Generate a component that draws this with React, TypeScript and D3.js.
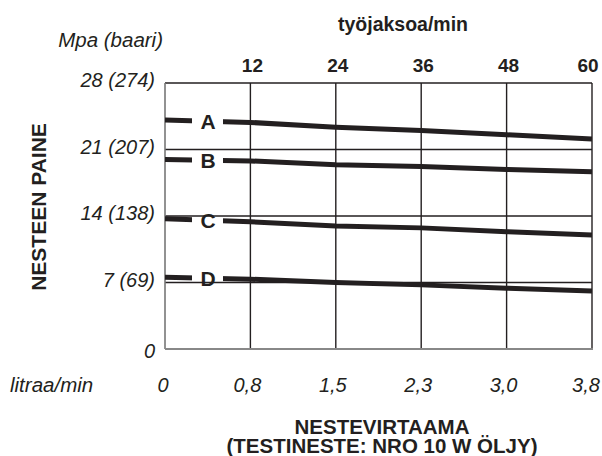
import React from "react";
import * as d3 from "d3";

const cycleTicks = [12, 24, 36, 48, 60];
const flowTickLabels = ["0", "0,8", "1,5", "2,3", "3,0", "3,8"];
const flowTickCycles = [0, 12, 24, 36, 48, 60];
const pressureTicks = [0, 7, 14, 21, 28];
const pressureTickLabels = ["0", "7 (69)", "14 (138)", "21 (207)", "28 (274)"];
const seriesX = [0, 12, 24, 36, 48, 60];
const seriesNames = ["A", "B", "C", "D"];
const seriesA = [24.1, 23.85, 23.35, 23.0, 22.55, 22.1];
const seriesB = [19.95, 19.8, 19.4, 19.2, 18.9, 18.65];
const seriesC = [13.7, 13.4, 12.95, 12.75, 12.35, 12.0];
const seriesD = [7.55, 7.35, 7.0, 6.75, 6.4, 6.1];
const seriesValues = [seriesA, seriesB, seriesC, seriesD];

const W = 602;
const H = 456;
const L = 165;
const R = 592;
const T = 83;
const B = 349;
const INK = "#231f20";
const FONT = "'Liberation Sans', Arial, Helvetica, sans-serif";

export default function App() {
  const x = d3.scaleLinear().domain([0, 60]).range([L, R]);
  const y = d3.scaleLinear().domain([0, 28]).range([B, T]);
  const line = d3
    .line<number>()
    .x((_, i) => x(seriesX[i]))
    .y((d) => y(d));

  const gapStart = 192;
  const gapEnd = 223;
  const labelX = 208;

  return (
    <svg
      width={W}
      height={H}
      style={{ position: "absolute", left: 0, top: 0, background: "#fff" }}
      fontFamily={FONT}
    >
      <defs>
        <clipPath id="gapclip">
          <rect x={L} y={0} width={gapStart - L} height={H} />
          <rect x={gapEnd} y={0} width={R - gapEnd} height={H} />
        </clipPath>
      </defs>
      <rect width={W} height={H} fill="#fff" />

      {/* horizontal gridlines */}
      {pressureTicks
        .filter((v) => v > 0 && v < 28)
        .map((v) => (
          <line key={"h" + v} x1={L} x2={R} y1={y(v)} y2={y(v)} stroke={INK} strokeWidth={1.4} />
        ))}
      {/* vertical gridlines */}
      {cycleTicks
        .filter((v) => v < 60)
        .map((v) => (
          <line key={"v" + v} x1={x(v)} x2={x(v)} y1={T} y2={B} stroke={INK} strokeWidth={1.4} />
        ))}
      {/* frame */}
      <line x1={L} x2={R} y1={T} y2={T} stroke={INK} strokeWidth={1.4} />
      <line x1={R} x2={R} y1={T} y2={B} stroke={INK} strokeWidth={1.4} />
      <line x1={L} x2={L} y1={T} y2={B} stroke="#777" strokeWidth={1.6} />
      <line x1={L} x2={R + 1} y1={B} y2={B} stroke="#888" strokeWidth={1.8} />

      {/* series */}
      {seriesValues.map((vals, i) => {
        const yl = y(vals[0]) + (y(vals[1]) - y(vals[0])) * (x.invert(labelX) / 12);
        return (
          <g key={seriesNames[i]}>
            <path
              d={line(vals) || ""}
              fill="none"
              stroke={INK}
              strokeWidth={5}
              clipPath="url(#gapclip)"
            />
            <text
              x={labelX}
              y={yl}
              dy="0.36em"
              textAnchor="middle"
              fontWeight="bold"
              fontSize={21}
              fill={INK}
            >
              {seriesNames[i]}
            </text>
          </g>
        );
      })}

      {/* top axis */}
      {cycleTicks.map((v) => (
        <text
          key={"t" + v}
          x={x(v) + (v === 60 ? -4 : 2)}
          y={72}
          textAnchor="middle"
          fontWeight="bold"
          fontSize={19}
          fill={INK}
        >
          {v}
        </text>
      ))}
      <text x={403} y={31} textAnchor="middle" fontWeight="bold" fontSize={19.5} fill={INK}>
        työjaksoa/min
      </text>

      {/* left axis */}
      <text x={163} y={47} textAnchor="end" fontStyle="italic" fontSize={20.5} fill={INK}>
        Mpa (baari)
      </text>
      {pressureTicks.map((v, i) => (
        <text
          key={"p" + v}
          x={155}
          y={y(v) + (v === 0 ? 9 : 4)}
          textAnchor="end"
          fontStyle="italic"
          fontSize={20}
          fill={INK}
        >
          {pressureTickLabels[i]}
        </text>
      ))}
      <text
        transform={`translate(46,${(T + B) / 2 - 9}) rotate(-90)`}
        textAnchor="middle"
        fontWeight="bold"
        fontSize={21}
        fill={INK}
      >
        NESTEEN PAINE
      </text>

      {/* bottom axis */}
      <text x={10} y={392} fontStyle="italic" fontSize={20.5} fill={INK}>
        litraa/min
      </text>
      {flowTickCycles.map((c, i) => (
        <text
          key={"f" + c}
          x={x(c) + (c === 0 ? -2 : c === 60 ? -6 : -3)}
          y={392}
          textAnchor="middle"
          fontStyle="italic"
          fontSize={20}
          fill={INK}
        >
          {flowTickLabels[i]}
        </text>
      ))}
      <text x={382} y={434} textAnchor="middle" fontWeight="bold" fontSize={20.5} fill={INK}>
        NESTEVIRTAAMA
      </text>
      <text x={382} y={453} textAnchor="middle" fontWeight="bold" fontSize={20.5} fill={INK}>
        (TESTINESTE: NRO 10 W ÖLJY)
      </text>
    </svg>
  );
}
